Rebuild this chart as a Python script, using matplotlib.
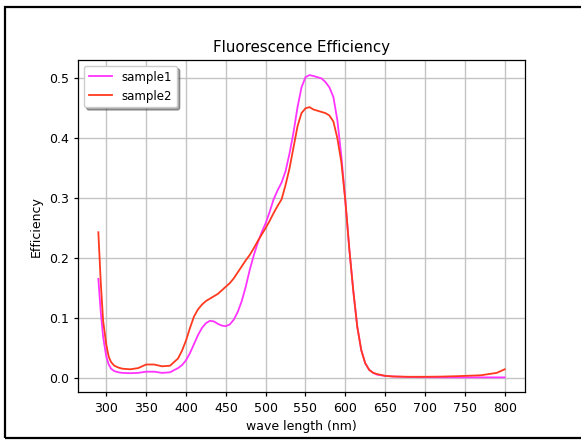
import matplotlib
matplotlib.use("Agg")
import matplotlib.pyplot as plt
from matplotlib.patches import Rectangle

# wavelength grid (nm)
WAVELENGTH = [290, 293, 296, 300, 303, 306, 310, 315, 320, 330, 340, 350, 360,
              370, 380, 390, 395, 400, 405, 410, 415, 420, 425, 430, 435, 440,
              445, 450, 455, 460, 465, 470, 475, 480, 485, 490, 495, 500, 505,
              510, 515, 520, 525, 530, 535, 540, 545, 550, 555, 560, 565, 570,
              575, 580, 585, 590, 595, 600, 605, 610, 615, 620, 625, 630, 635,
              640, 650, 660, 680, 700, 720, 740, 760, 770, 780, 790, 800]

SAMPLE1 = [0.165, 0.110, 0.068, 0.035, 0.022, 0.015, 0.011, 0.009, 0.008,
           0.0075, 0.008, 0.010, 0.010, 0.008, 0.009, 0.016, 0.021, 0.029,
           0.041, 0.056, 0.071, 0.083, 0.091, 0.095, 0.094, 0.090, 0.087,
           0.086, 0.089, 0.097, 0.110, 0.128, 0.152, 0.180, 0.204, 0.225,
           0.243, 0.258, 0.277, 0.298, 0.313, 0.326, 0.345, 0.375, 0.410,
           0.452, 0.485, 0.502, 0.5055, 0.504, 0.502, 0.500, 0.494, 0.485,
           0.469, 0.430, 0.370, 0.296, 0.215, 0.145, 0.085, 0.046, 0.024,
           0.013, 0.008, 0.005, 0.003, 0.002, 0.001, 0.0008, 0.0006, 0.0005,
           0.0005, 0.0005, 0.0005, 0.0005, 0.0005]

SAMPLE2 = [0.243, 0.160, 0.095, 0.055, 0.035, 0.026, 0.020, 0.017, 0.015,
           0.014, 0.016, 0.022, 0.022, 0.019, 0.020, 0.032, 0.045, 0.062,
           0.083, 0.102, 0.114, 0.122, 0.128, 0.132, 0.136, 0.140, 0.146,
           0.152, 0.158, 0.166, 0.176, 0.186, 0.196, 0.205, 0.216, 0.228,
           0.239, 0.250, 0.262, 0.275, 0.287, 0.298, 0.322, 0.350, 0.385,
           0.420, 0.442, 0.450, 0.452, 0.448, 0.446, 0.444, 0.442, 0.438,
           0.428, 0.400, 0.360, 0.296, 0.215, 0.145, 0.085, 0.046, 0.024,
           0.013, 0.008, 0.006, 0.003, 0.002, 0.0015, 0.0015, 0.0018, 0.0025,
           0.0035, 0.004, 0.006, 0.008, 0.014]

fig = plt.figure(figsize=(5.81, 4.41), dpi=100)
ax = fig.add_axes([0.1343, 0.110, 0.7693, 0.754])

ax.plot(WAVELENGTH, SAMPLE1, color="#ff33ff", linewidth=1.3, label="sample1")
ax.plot(WAVELENGTH, SAMPLE2, color="#ff3a1e", linewidth=1.3, label="sample2")

ax.set_xticks(range(300, 801, 50))
ax.set_yticks([0.0, 0.1, 0.2, 0.3, 0.4, 0.5])
ax.tick_params(labelsize=9, width=0.9, length=3.2)
for axis in ["top", "bottom", "left", "right"]:
    ax.spines[axis].set_linewidth(0.9)
ax.grid(linewidth=1.0, color="#c4c4c4")
ax.set_axisbelow(True)
ax.set_title("Fluorescence Efficiency", fontsize=10.8)
ax.set_xlabel("wave length (nm)", fontsize=9)
ax.set_ylabel("Efficiency", fontsize=9)
ax.legend(loc="upper left", shadow=True, fontsize=8.5)

# black frame around the figure (right edge falls outside the image)
fig.patches.append(Rectangle((5 / 581, 3.5 / 441), 1.2, 431 / 441,
                             transform=fig.transFigure, fill=False,
                             edgecolor="black", linewidth=1.6, clip_on=False))

fig.savefig("out.png", dpi=100)
